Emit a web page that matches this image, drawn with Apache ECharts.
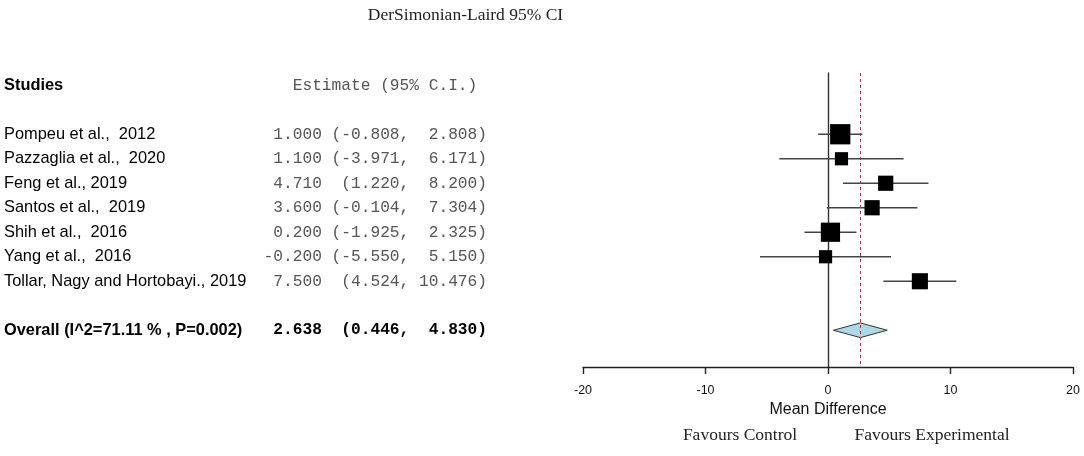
<!DOCTYPE html>
<html><head><meta charset="utf-8">
<script src="https://cdn.jsdelivr.net/npm/echarts@6/dist/echarts.min.js"></script>
<style>html,body{margin:0;padding:0;background:#fff}#c{width:1084px;height:456px}</style>
</head><body><div id="c"></div>
<script>
const studies = ['Pompeu et al.,  2012','Pazzaglia et al.,  2020','Feng et al., 2019','Santos et al.,  2019','Shih et al.,  2016','Yang et al.,  2016','Tollar, Nagy and Hortobayi., 2019'];
const estimates = [1.000, 1.100, 4.710, 3.600, 0.200, -0.200, 7.500];
const lowerCI = [-0.808, -3.971, 1.220, -0.104, -1.925, -5.550, 4.524];
const upperCI = [2.808, 6.171, 8.200, 7.304, 2.325, 5.150, 10.476];
const weights = [22.2, 9.4, 12.5, 12.5, 20.0, 9.4, 14.0];
const overallLabel = 'Overall (I^2=71.11 % , P=0.002)';
const overallEstimate = 2.638;
const overallLower = 0.446;
const overallUpper = 4.830;
const xTicks = [-20, -10, 0, 10, 20];
const headerStudies = 'Studies';
const headerEstimate = 'Estimate (95% C.I.) ';
const titleText = 'DerSimonian-Laird 95% CI';
const favours = ['Favours Control', 'Favours Experimental'];

function fmt(e, l, u) {
  return e.toFixed(3).padStart(6) + ' ' + ('(' + l.toFixed(3)).padStart(7) + ', ' + (u.toFixed(3) + ')').padStart(7);
}
const overallRow = studies.length + 2;
const headerRow = -1;

const textRows = [{idx: headerRow, name: headerStudies, est: headerEstimate, bold: true, head: true}];
studies.forEach((s, i) => textRows.push({idx: i + 1, name: s, est: fmt(estimates[i], lowerCI[i], upperCI[i]), bold: false}));
textRows.push({idx: overallRow, name: overallLabel, est: fmt(overallEstimate, overallLower, overallUpper), bold: true});

const SANS = '"Liberation Sans", Arial, sans-serif';
const MONO = '"Liberation Mono", "Courier New", monospace';
const SERIF = '"Liberation Serif", "Times New Roman", serif';

const chart = echarts.init(document.getElementById('c'), null, {renderer: 'canvas'});
chart.setOption({
  animation: false,
  backgroundColor: '#fff',
  grid: [
    {left: 583, right: 11, top: 73, bottom: 89},
    {left: 4, right: 597, top: 73, bottom: 89}
  ],
  xAxis: [
    {type: 'value', gridIndex: 0, min: xTicks[0], max: xTicks[xTicks.length - 1], interval: 10,
     axisLine: {onZero: false, lineStyle: {color: '#222', width: 1.4}},
     axisTick: {length: 7, lineStyle: {color: '#222', width: 1.4}},
     axisLabel: {fontSize: 12.5, fontFamily: SANS, color: '#111', margin: 17},
     splitLine: {show: false},
     name: 'Mean Difference', nameLocation: 'middle', nameGap: 33,
     nameTextStyle: {fontSize: 16, fontFamily: SANS, color: '#111'}},
    {type: 'value', gridIndex: 1, min: 0, max: 1, show: false}
  ],
  yAxis: [
    {type: 'value', gridIndex: 0, min: -1.5, max: 10.5, inverse: true,
     axisLine: {show: true, onZero: true, lineStyle: {color: '#333', width: 1.4}},
     axisTick: {show: false}, axisLabel: {show: false}, splitLine: {show: false}},
    {type: 'value', gridIndex: 1, min: -1.5, max: 10.5, inverse: true, show: false}
  ],
  series: [
    {
      type: 'custom', xAxisIndex: 0, yAxisIndex: 0, silent: true,
      data: studies.map((s, i) => [lowerCI[i], upperCI[i], i + 1]),
      encode: {x: [0, 1], y: 2},
      renderItem: function (params, api) {
        const p1 = api.coord([api.value(0), api.value(2)]);
        const p2 = api.coord([api.value(1), api.value(2)]);
        return {type: 'line', shape: {x1: p1[0], y1: p1[1], x2: p2[0], y2: p2[1]},
                style: {stroke: '#444', lineWidth: 1.4}};
      },
      markLine: {
        silent: true, symbol: ['none', 'none'], label: {show: false},
        lineStyle: {color: '#a83232', type: [3, 3], width: 1},
        data: [{xAxis: overallEstimate}]
      }
    },
    {
      type: 'scatter', xAxisIndex: 0, yAxisIndex: 0, silent: true, z: 3,
      symbol: 'rect',
      data: studies.map((s, i) => [estimates[i], i + 1, weights[i]]),
      symbolSize: function (v) { return Math.sqrt(v[2]) * 4.3; },
      itemStyle: {color: '#000', opacity: 1}
    },
    {
      type: 'custom', xAxisIndex: 0, yAxisIndex: 0, silent: true, z: 4,
      data: [[overallLower, overallEstimate, overallUpper, overallRow]],
      encode: {x: [0, 2], y: 3},
      renderItem: function (params, api) {
        const r = api.value(3);
        const a = api.coord([api.value(0), r]);
        const b = api.coord([api.value(1), r - 0.3]);
        const c = api.coord([api.value(2), r]);
        const d = api.coord([api.value(1), r + 0.3]);
        return {type: 'polygon', shape: {points: [a, b, c, d]},
                style: {fill: '#add8e6', stroke: '#333', lineWidth: 1}};
      }
    },
    {
      type: 'custom', xAxisIndex: 1, yAxisIndex: 1, silent: true,
      data: textRows.map(r => [0, r.idx]),
      renderItem: function (params, api) {
        const row = textRows[params.dataIndex];
        const p = api.coord([0, api.value(1)]);
        return {type: 'text', x: p[0], y: p[1],
                style: {text: row.name, fill: '#000', fontSize: 16.4, fontFamily: SANS,
                        fontWeight: row.bold ? 'bold' : 'normal', align: 'left', verticalAlign: 'middle'}};
      }
    },
    {
      type: 'custom', xAxisIndex: 1, yAxisIndex: 1, silent: true,
      data: textRows.map(r => [1, r.idx]),
      renderItem: function (params, api) {
        const row = textRows[params.dataIndex];
        const p = api.coord([1, api.value(1)]);
        return {type: 'text', x: p[0], y: p[1],
                style: {text: row.est, fill: (row.bold && !row.head) ? '#000' : '#555', fontSize: 16.2, fontFamily: MONO,
                        fontWeight: (row.bold && !row.head) ? 'bold' : 'normal', align: 'right', verticalAlign: 'middle'}};
      }
    }
  ],
  graphic: [
    {type: 'text', x: 465.5, y: 15, style: {text: titleText, fill: '#222', fontSize: 17.5, fontFamily: SERIF, align: 'center', verticalAlign: 'middle'}},
    {type: 'text', x: 740, y: 435, style: {text: favours[0], fill: '#222', fontSize: 17.5, fontFamily: SERIF, align: 'center', verticalAlign: 'middle'}},
    {type: 'text', x: 932, y: 435, style: {text: favours[1], fill: '#222', fontSize: 17.5, fontFamily: SERIF, align: 'center', verticalAlign: 'middle'}}
  ]
});
</script>
</body></html>
